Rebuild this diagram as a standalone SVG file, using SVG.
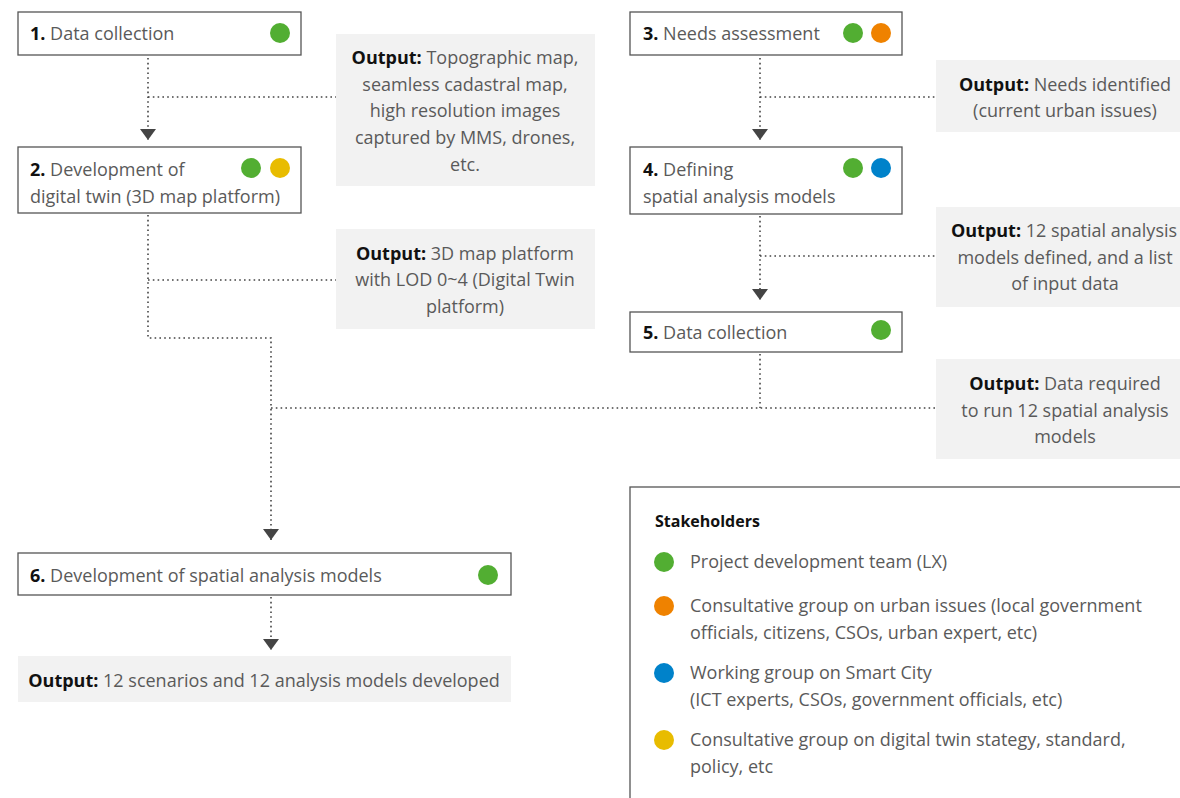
<svg xmlns="http://www.w3.org/2000/svg" width="1180" height="798" viewBox="0 0 1180 798">
<style>
.box{fill:#fff;stroke:#555;stroke-width:1.3}
.out{fill:#f2f2f2}
.t{font-family:"Open Sans","Liberation Sans",sans-serif;font-size:18px;fill:#5a5a5a}
.c{text-anchor:middle}
.b{font-weight:bold;fill:#111}
.con{fill:none;stroke:#444;stroke-width:1.6;stroke-dasharray:1.6 3.2}
.arr{marker-end:url(#ah)}
.g{fill:#52ae32}.o{fill:#ef8200}.bl{fill:#0082ca}.y{fill:#e8bc00}
</style>
<defs>
<marker id="ah" viewBox="0 0 11 16" refX="11" refY="8" markerWidth="11" markerHeight="16" markerUnits="userSpaceOnUse" orient="auto">
<path d="M0,0 L11,8 L0,16 Z" fill="#444"/>
</marker>
</defs>
<g id="connectors">
<path class="con arr" d="M148,58 V140"/>
<path class="con" d="M148,97 H336"/>
<path class="con arr" d="M148,215 V338 H271 V540"/>
<path class="con" d="M148,280 H336"/>
<path class="con arr" d="M760,58 V140"/>
<path class="con" d="M760,97 H936"/>
<path class="con arr" d="M760,216 V300"/>
<path class="con" d="M760,256 H936"/>
<path class="con" d="M760,354 V408"/>
<path class="con" d="M271,408 H936"/>
<path class="con arr" d="M271,597 V650"/>
</g>
<g id="n1">
<rect class="box" x="18" y="12" width="283" height="43"/>
<text class="t" x="30" y="40"><tspan class="b">1.</tspan> Data collection</text>
<circle class="g" cx="280" cy="33" r="10"/>
</g>
<g id="o1">
<rect class="out" x="336" y="34" width="259" height="152"/>
<text class="t c" x="465" y="64"><tspan class="b">Output:</tspan> Topographic map,</text>
<text class="t c" x="465" y="91">seamless cadastral map,</text>
<text class="t c" x="465" y="117">high resolution images</text>
<text class="t c" x="465" y="144">captured by MMS, drones,</text>
<text class="t c" x="465" y="171">etc.</text>
</g>
<g id="n2">
<rect class="box" x="18" y="147" width="283" height="66"/>
<text class="t" x="30" y="176"><tspan class="b">2.</tspan> Development of</text>
<text class="t" x="30" y="203">digital twin (3D map platform)</text>
<circle class="g" cx="251" cy="168" r="10"/>
<circle class="y" cx="280" cy="168" r="10"/>
</g>
<g id="o2">
<rect class="out" x="336" y="229" width="259" height="100"/>
<text class="t c" x="465" y="260"><tspan class="b">Output:</tspan> 3D map platform</text>
<text class="t c" x="465" y="286">with LOD 0~4 (Digital Twin</text>
<text class="t c" x="465" y="313">platform)</text>
</g>
<g id="n3">
<rect class="box" x="630" y="12" width="272" height="43"/>
<text class="t" x="643" y="40"><tspan class="b">3.</tspan> Needs assessment</text>
<circle class="g" cx="853" cy="33" r="10"/>
<circle class="o" cx="881" cy="33" r="10"/>
</g>
<g id="o3">
<rect class="out" x="936" y="60" width="244" height="72"/>
<text class="t c" x="1065" y="91"><tspan class="b">Output:</tspan> Needs identified</text>
<text class="t c" x="1065" y="117">(current urban issues)</text>
</g>
<g id="n4">
<rect class="box" x="630" y="147" width="272" height="67"/>
<text class="t" x="643" y="176"><tspan class="b">4.</tspan> Defining</text>
<text class="t" x="643" y="203">spatial analysis models</text>
<circle class="g" cx="853" cy="168" r="10"/>
<circle class="bl" cx="881" cy="168" r="10"/>
</g>
<g id="o4">
<rect class="out" x="936" y="207" width="244" height="100"/>
<text class="t c" x="1064" y="237"><tspan class="b">Output:</tspan> 12 spatial analysis</text>
<text class="t c" x="1065" y="264">models defined, and a list</text>
<text class="t c" x="1065" y="290">of input data</text>
</g>
<g id="n5">
<rect class="box" x="630" y="312" width="272" height="40"/>
<text class="t" x="643" y="339"><tspan class="b">5.</tspan> Data collection</text>
<circle class="g" cx="881" cy="330" r="10"/>
</g>
<g id="o5">
<rect class="out" x="936" y="359" width="244" height="100"/>
<text class="t c" x="1065" y="390"><tspan class="b">Output:</tspan> Data required</text>
<text class="t c" x="1065" y="417">to run 12 spatial analysis</text>
<text class="t c" x="1065" y="443">models</text>
</g>
<g id="n6">
<rect class="box" x="18" y="553" width="493" height="42"/>
<text class="t" x="30" y="582"><tspan class="b">6.</tspan> Development of spatial analysis models</text>
<circle class="g" cx="488" cy="575" r="10"/>
</g>
<g id="o6">
<rect class="out" x="18" y="656" width="493" height="46"/>
<text class="t c" x="264" y="687"><tspan class="b">Output:</tspan> 12 scenarios and 12 analysis models developed</text>
</g>
<g id="legend">
<rect x="630" y="487" width="600" height="400" fill="none" stroke="#555" stroke-width="1.3"/>
<text class="t b" x="655" y="527" style="font-size:16px">Stakeholders</text>
<circle class="g" cx="664" cy="562" r="10"/>
<text class="t" x="690" y="568">Project development team (LX)</text>
<circle class="o" cx="664" cy="606" r="10"/>
<text class="t" x="690" y="612">Consultative group on urban issues (local government</text>
<text class="t" x="690" y="639">officials, citizens, CSOs, urban expert, etc)</text>
<circle class="bl" cx="664" cy="673" r="10"/>
<text class="t" x="690" y="679">Working group on Smart City</text>
<text class="t" x="690" y="706">(ICT experts, CSOs, government officials, etc)</text>
<circle class="y" cx="664" cy="740" r="10"/>
<text class="t" x="690" y="746">Consultative group on digital twin stategy, standard,</text>
<text class="t" x="690" y="773">policy, etc</text>
</g>
</svg>
